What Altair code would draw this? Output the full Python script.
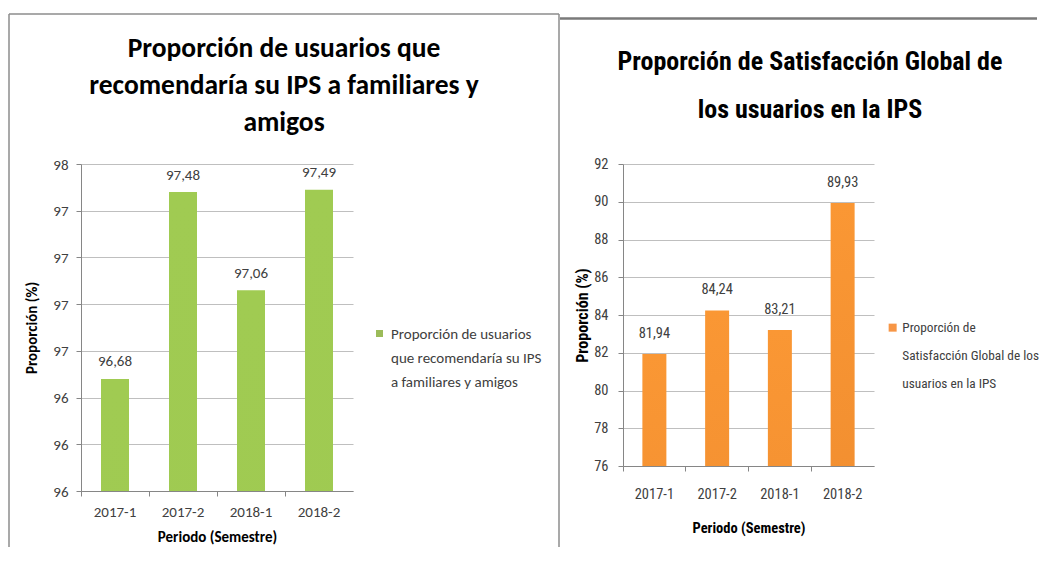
import altair as alt
import pandas as pd

# ---------------- data ----------------
periodos = ["2017-1", "2017-2", "2018-1", "2018-2"]
recomendaria = [96.68, 97.48, 97.06, 97.49]
satisfaccion = [81.94, 84.24, 83.21, 89.93]

titulo_izq = ["Proporción de usuarios que", "recomendaría su IPS a familiares y", "amigos"]
titulo_der = ["Proporción de Satisfacción Global de", "los usuarios en la IPS"]
serie_izq = ["Proporción de usuarios", "que recomendaría su IPS", "a familiares y amigos"]
serie_der = ["Proporción de", "Satisfacción Global de los", "usuarios en la IPS"]
eje_y_titulo = "Proporción (%)"
eje_x_titulo = "Periodo (Semestre)"

y_izq_ticks = [96.2, 96.4, 96.6, 96.8, 97.0, 97.2, 97.4, 97.6]
y_izq_labels = ["96", "96", "96", "97", "97", "97", "97", "98"]
y_der_ticks = [76, 78, 80, 82, 84, 86, 88, 90, 92]


def label_expr(ticks, labels):
    expr = "'%s'" % labels[-1]
    for i in range(len(ticks) - 2, -1, -1):
        mid = round((ticks[i] + ticks[i + 1]) / 2, 4)
        expr = "datum.value < %s ? '%s' : (%s)" % (mid, labels[i], expr)
    return expr


AXIS_GRAY = "#868686"
CLEAR = "rgba(0,0,0,0)"


def panel(c):
    df = pd.DataFrame({
        "Periodo": periodos,
        "Valor": c["values"],
        "Serie": c["serie"][0],
    })
    font = c["font"]
    fs = c["fs"]
    yaxis_kw = dict(
        values=c["yticks"], labelFont=font, labelFontSize=fs, labelColor="#404040",
        labelPadding=c["ylabpad"], tickSize=5, tickColor=AXIS_GRAY, domainColor=AXIS_GRAY,
        grid=True, gridColor="#bfbfbf", gridWidth=1,
        titleFont=font, titleFontSize=c["ytfs"], titleFontWeight="bold", titleColor="#000000",
        titleX=c["ytitlex"], titleY=c["height"] / 2, titleAngle=270,
        titleBaseline="middle", titleAlign="center",
    )
    if c.get("ylabels"):
        yaxis_kw["labelExpr"] = label_expr(c["yticks"], c["ylabels"])
    xenc = alt.X(
        "Periodo:N", sort=periodos, title=eje_x_titulo,
        scale=alt.Scale(paddingInner=0, paddingOuter=0),
        axis=alt.Axis(
            bandPosition=0, labelAngle=0,
            labelFont=font, labelFontSize=fs, labelColor="#404040",
            labelBaseline="middle", labelPadding=c["xlabpad"],
            tickSize=5, tickColor=AXIS_GRAY, domainColor=AXIS_GRAY, grid=False,
            titleFont=font, titleFontSize=fs, titleFontWeight="bold", titleColor="#000000",
            titleX=c["width"] / 2, titleY=c["xtitley"], titleBaseline="middle", titleAlign="center",
        ),
    )
    yenc = alt.Y(
        "Valor:Q", title=eje_y_titulo,
        scale=alt.Scale(domain=c["domain"], zero=False, nice=False),
        axis=alt.Axis(**yaxis_kw),
    )
    base = alt.Chart(df).encode(x=xenc, y=yenc)

    # invisible bars that only carry the legend
    legend_bars = base.mark_bar(size=c["bar"], clip=True, opacity=0).encode(
        color=alt.Color(
            "Serie:N",
            scale=alt.Scale(domain=c["serie"], range=[c["legend_color"]] + [CLEAR] * (len(c["serie"]) - 1)),
            legend=alt.Legend(
                title=None, orient="none", legendX=c["legx"], legendY=c["legy"], padding=0,
                symbolType="square", symbolSize=c["sym"], symbolStrokeWidth=0, symbolOpacity=1,
                labelFont=font, labelFontSize=c["legfs"], labelColor="#404040", labelLimit=0,
                labelOffset=c["legoff"], rowPadding=c["legrow"],
            ),
        )
    )
    grad_bars = base.mark_bar(
        size=c["bar"], clip=True,
        color=alt.Gradient(
            gradient="linear",
            stops=[alt.GradientStop(color=c["top"], offset=0),
                   alt.GradientStop(color=c["bottom"], offset=1)],
            x1=1, x2=1, y1=0, y2=1,
        ),
    )
    labels = base.transform_calculate(
        etiqueta="replace(format(datum.Valor, '.2f'), '.', ',')"
    ).mark_text(dy=c["label_dy"], font=font, fontSize=fs, color="#404040").encode(text="etiqueta:N")

    fdata = alt.Data(values=[{"k": 0}])
    frames = [
        alt.Chart(fdata).mark_rule(color=c["frame_color"], strokeWidth=c["frame_w"]).encode(
            x=alt.value(x1), x2=alt.value(x2), y=alt.value(y1), y2=alt.value(y2))
        for (x1, y1, x2, y2) in c["frames"]
    ]

    return alt.layer(*frames, legend_bars, grad_bars, labels).properties(
        width=c["width"], height=c["height"],
        title=alt.TitleParams(
            text=c["titulo"], font=font, fontSize=c["tfs"], fontWeight="bold", color="#000000",
            anchor="middle", frame="group", dx=c["tdx"], offset=c["toff"],
            lineHeight=c["tlh"], baseline="bottom",
        ),
    )


izq = panel(dict(
    values=recomendaria, serie=serie_izq, titulo=titulo_izq,
    font="Carlito", fs=15, ytfs=15, tfs=27.5, tlh=37, tdx=67, toff=-151,
    width=272, height=327, bar=28, domain=[96.2, 97.6],
    yticks=y_izq_ticks, ylabels=y_izq_labels, ylabpad=8, ytitlex=-50,
    xlabpad=15, xtitley=45, label_dy=-17.5,
    top="#a0cb52", bottom="#728f38", legend_color="#9bbb59",
    legx=291, legy=162, sym=49, legfs=15, legrow=8, legoff=4,
    frames=[(-72, -150, 478, -150), (-72, -150, -72, 383), (478, -150, 478, 383)],
    frame_color="#8c8c8c", frame_w=1.5,
))

der = panel(dict(
    values=satisfaccion, serie=serie_der, titulo=titulo_der,
    font="Roboto Condensed", fs=14.5, ytfs=16, tfs=26, tlh=48, tdx=61.5, toff=-132,
    width=251, height=302, bar=24, domain=[76, 92],
    yticks=y_der_ticks, ylabels=None, ylabpad=10, ytitlex=-41,
    xlabpad=23, xtitley=62.5, label_dy=-20,
    top="#fa9734", bottom="#cb681f", legend_color="#f79646",
    legx=263, legy=157, sym=64, legfs=13.3, legrow=14, legoff=3,
    frames=[(-63, -145.5, 414, -145.5)],
    frame_color="#7a7a7a", frame_w=2.5,
))

chart = alt.hconcat(izq, der, spacing=270, bounds="flush").resolve_scale(
    color="independent"
).resolve_legend(color="independent").properties(
    padding={"left": 0, "top": 5, "right": 0, "bottom": 0}
).configure_view(stroke=None)

chart.save("out.html", embed_options={"renderer": "svg", "actions": False})
